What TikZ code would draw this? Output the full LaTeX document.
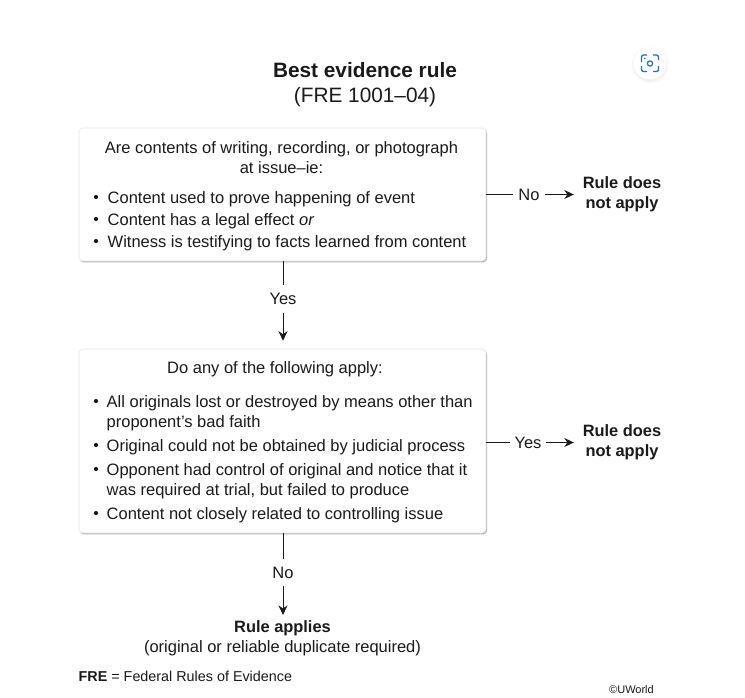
\documentclass[tikz,border=0pt]{standalone}
\usepackage{fontspec}
\setmainfont{Liberation Sans}
\usetikzlibrary{arrows.meta,shadows,calc}
\definecolor{txt}{HTML}{1A1A1A}
\definecolor{iconblue}{HTML}{1F6FC0}
\tikzset{
  x=1pt,y=-1pt,
  flowbox/.style={draw=black!10,line width=.6pt,fill=white,rounded corners=4pt,minimum width=407pt,inner sep=0pt,
    drop shadow={shadow xshift=1pt,shadow yshift=-1.4pt,opacity=.4,fill=black!75}},
  body/.style={font=\fontsize{16.5}{20}\selectfont,text=txt,inner sep=0pt,anchor=base west},
  centred/.style={font=\fontsize{16.5}{20}\selectfont,text=txt,inner sep=0pt,anchor=base},
  bull/.style={circle,fill=txt,inner sep=0pt,minimum size=4.2pt},
  vlabel/.style={font=\fontsize{16.5}{20}\selectfont,text=txt,inner sep=0pt,minimum height=27pt,minimum width=30pt},
  hlabel/.style={font=\fontsize{16.5}{20}\selectfont,text=txt,inner sep=0pt,minimum height=18pt},
  outcome/.style={font=\bfseries\fontsize{16.4}{20}\selectfont,text=txt,align=center,inner sep=0pt},
  link/.style={draw=black!90,line width=.9pt},
  arrowlink/.style={link,-{Stealth[length=9.5pt,width=9pt]}},
  iconline/.style={draw=iconblue,line width=1.3pt,rounded corners=2pt}
}
\begin{document}
\begin{tikzpicture}
\useasboundingbox[fill=white] (0,0) rectangle (745,697);
% title
\node[font=\bfseries\fontsize{20.8}{24}\selectfont,text=txt,inner sep=0pt,anchor=base] (title) at (365,77.5) {Best evidence rule};
\node[font=\fontsize{20.8}{24}\selectfont,text=txt,inner sep=0pt,anchor=base] (fre) at (365,102.5) {(FRE 1001–04)};
% boxes
\node[flowbox,minimum height=133pt] (box1) at (282.5,194.5) {};
\node[flowbox,minimum height=184pt] (box2) at (282.5,441) {};
% box 1 text
\node[centred] (a1) at (281.5,153) {Are contents of writing, recording, or photograph};
\node[centred] (a2) at (281.5,173) {at issue–ie:};
\node[bull] (b1) at (96,197) {};
\node[body] (t1) at (107.5,203) {Content used to prove happening of event};
\node[bull] (b2) at (96,219) {};
\node[body] (t2) at (107.5,225) {Content has a legal effect \textit{or}};
\node[bull] (b3) at (96,241) {};
\node[body] (t3) at (107.5,247) {Witness is testifying to facts learned from content};
% box 2 text
\node[centred] (c1) at (275,373) {Do any of the following apply:};
\node[bull] (d1) at (96,401) {};
\node[body] (u1) at (106.5,407) {All originals lost or destroyed by means other than};
\node[body] (u1b) at (106.5,427) {proponent's bad faith};
\node[bull] (d2) at (96,445) {};
\node[body] (u2) at (106.5,451) {Original could not be obtained by judicial process};
\node[bull] (d3) at (96,469) {};
\node[body] (u3) at (106.5,475) {Opponent had control of original and notice that it};
\node[body] (u3b) at (106.5,495) {was required at trial, but failed to produce};
\node[bull] (d4) at (96,513) {};
\node[body] (u4) at (106.5,519) {Content not closely related to controlling issue};
% labels
\node[vlabel] (yes1) at (283,299) {Yes};
\node[vlabel] (no2) at (283,572.5) {No};
\node[hlabel,minimum width=32pt] (no1) at (529,194.5) {No};
\node[hlabel,minimum width=36pt] (yes2) at (528,442.5) {Yes};
% outcomes
\node[outcome,minimum width=96pt] (rule1) at (622,194) {Rule does\\[0pt]not apply};
\node[outcome,minimum width=96pt] (rule2) at (622,442) {Rule does\\[0pt]not apply};
\node[font=\bfseries\fontsize{16.4}{20}\selectfont,text=txt,inner sep=0pt,anchor=base,minimum height=0pt] (apply) at (282.5,632) {Rule applies};
\node[centred] (dup) at (282.5,652) {(original or reliable duplicate required)};
% connectors
\draw[link] (box1.south -| yes1) -- (yes1.north);
\draw[arrowlink] (yes1.south) -- ($(box2.north -| yes1)+(0,-8)$);
\draw[link] (box2.south -| no2) -- (no2.north);
\draw[arrowlink] (no2.south) -- ($(apply.north -| no2)+(0,-5)$);
\draw[link] (box1.east |- no1) -- (no1.west);
\draw[arrowlink] (no1.east) -- (rule1.west |- no1);
\draw[link] (box2.east |- yes2) -- (yes2.west);
\draw[arrowlink] (yes2.east) -- (rule2.west |- yes2);
% footer
\node[font=\fontsize{14.35}{17}\selectfont,text=txt,inner sep=0pt,anchor=base west] (fn) at (78.5,681) {\textbf{FRE} = Federal Rules of Evidence};
\node[font=\fontsize{11}{13}\selectfont,text=txt,inner sep=0pt,anchor=base west] (cr) at (609,693) {©UWorld};
% viewfinder button
\foreach \r/\o in {19/.012,18/.018,17/.025}{\fill[black,opacity=\o] (650,64.5) circle (\r);}
\fill[white] (650,63) circle (16.5);
\draw[iconline] (641.5,62) -- (641.5,55) -- (647,55);
\draw[iconline] (653,55) -- (658.5,55) -- (658.5,60);
\draw[iconline] (658.5,66) -- (658.5,71.5) -- (653,71.5);
\draw[iconline] (647,71.5) -- (641.5,71.5) -- (641.5,66);
\draw[draw=iconblue,line width=1.2pt] (650,63.5) circle (2.6);
\fill[iconblue] (644.8,58.5) circle (.9);
\end{tikzpicture}
\end{document}
